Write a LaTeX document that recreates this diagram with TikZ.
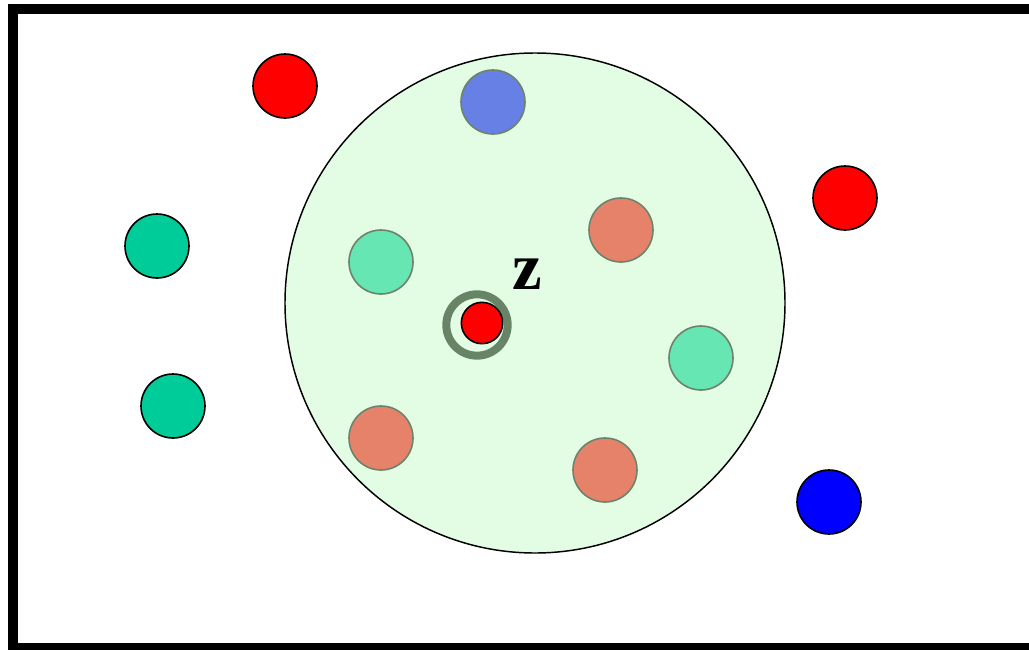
\documentclass[tikz,border=0pt]{standalone}
\usepackage{fontspec}
\newfontfamily\zfont{Liberation Serif}
\begin{document}
\begin{tikzpicture}[x=0.75pt,y=-0.75pt,
  outer/.style={circle,draw=black,line width=1.2pt,minimum size=48pt,inner sep=0pt},
  inner/.style={circle,draw=ringgreen!80!gray,line width=1.2pt,minimum size=48pt,inner sep=0pt}]
\definecolor{bigfill}{HTML}{E3FDE5}
\definecolor{tealA}{HTML}{00CC99}
\definecolor{tealB}{HTML}{66E6B3}
\definecolor{salmon}{HTML}{E6826A}
\definecolor{softblue}{HTML}{6680E6}
\definecolor{ringgreen}{HTML}{688466}
\useasboundingbox (0,0) rectangle (1029,650);
\begin{scope}
\clip (0,0) rectangle (1029,650);
\draw[line width=7.5pt] (13,9) rectangle (1045,648);
\end{scope}
\node[circle,draw=black,line width=1.1pt,fill=bigfill,minimum size=375pt,inner sep=0pt] (big) at (535,303) {};
\node[outer,fill=red] (r1) at (285,86) {};
\node[outer,fill=tealA] (t1) at (157,246) {};
\node[outer,fill=tealA] (t2) at (173,406) {};
\node[outer,fill=red] (r2) at (845,198) {};
\node[outer,fill=blue] (b1) at (829,502) {};
\node[inner,fill=softblue] (ib) at (493,102) {};
\node[inner,fill=salmon] (s1) at (621,230) {};
\node[inner,fill=salmon] (s2) at (381,438) {};
\node[inner,fill=salmon] (s3) at (605,470) {};
\node[inner,fill=tealB] (g1) at (381,262) {};
\node[inner,fill=tealB] (g2) at (701,358) {};
\node[circle,draw=ringgreen,line width=6pt,minimum size=46pt,inner sep=0pt] (ring) at (477,325) {};
\node[circle,draw=black,line width=1.2pt,fill=red,minimum size=31pt,inner sep=0pt] (z0) at (482,323) {};
\node[font=\zfont\fontsize{50}{52}\selectfont\bfseries,inner sep=0pt] (zl) at (527,274) {z};
\end{tikzpicture}
\end{document}
